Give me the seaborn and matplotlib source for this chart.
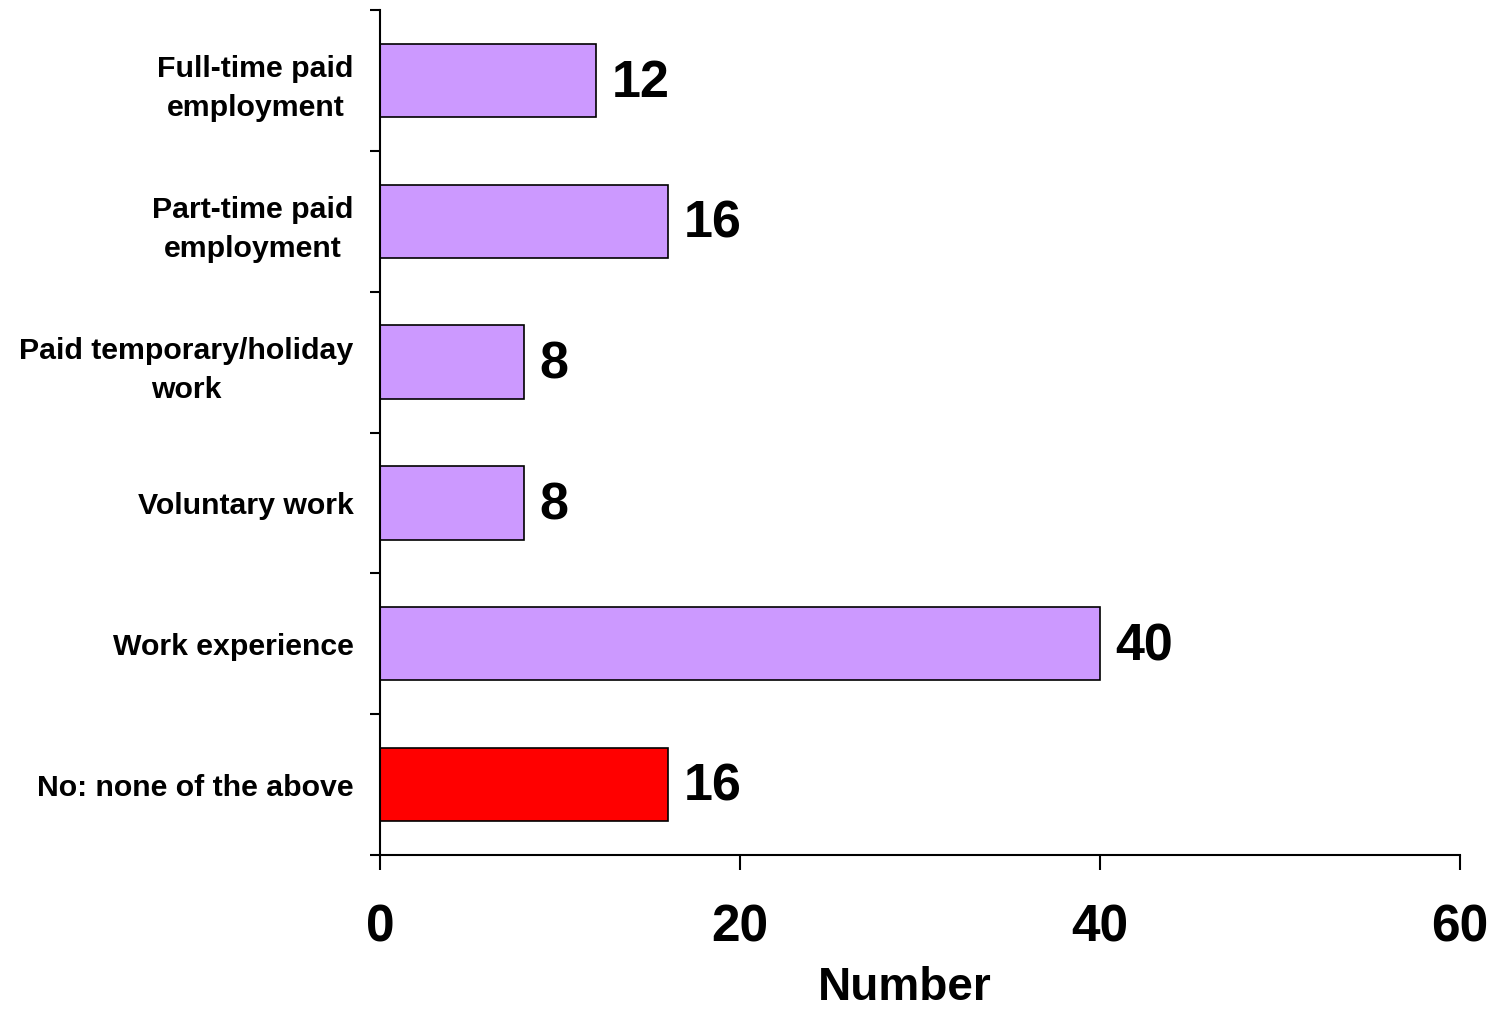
import matplotlib
matplotlib.use("Agg")
import matplotlib.pyplot as plt
import seaborn as sns
import pandas as pd
import numpy as np

categories = ["Full-time paid\nemployment", "Part-time paid\nemployment",
              "Paid temporary/holiday\nwork", "Voluntary work",
              "Work experience", "No: none of the above"]
values = [12, 16, 8, 8, 40, 16]
groups = ["yes", "yes", "yes", "yes", "yes", "no"]
palette = {"yes": "#CC99FF", "no": "#FF0000"}
xticks = [0, 20, 40, 60]
xlabel = "Number"

sns.set_theme(style="white")
plt.rcParams['font.family'] = ['Liberation Sans', 'DejaVu Sans']
plt.rcParams['font.weight'] = 'bold'
plt.rcParams['text.color'] = 'black'
plt.rcParams['axes.labelcolor'] = 'black'
plt.rcParams['xtick.color'] = 'black'
plt.rcParams['ytick.color'] = 'black'

df = pd.DataFrame({"cat": categories, "val": values, "grp": groups})

fig = plt.figure(figsize=(14.98, 10.10), dpi=100)
ax = fig.add_axes([380/1498, 155/1010, 1080/1498, 845/1010])

sns.barplot(data=df, y="cat", x="val", hue="grp", palette=palette, dodge=False,
            width=0.52, edgecolor="black", linewidth=1.2, legend=False, ax=ax,
            orient="h", saturation=1)

ax.set_xlim(0, 60)
ax.set_ylim(5.5, -0.5)
ax.set_xticks(xticks)
ax.set_xticklabels([str(t) for t in xticks], fontsize=37, fontweight='bold', color='black')
ax.set_yticks(range(len(categories)))
ax.set_yticklabels(categories, fontsize=21.8, fontweight='bold', multialignment='center',
                   linespacing=1.5, color='black')
ax.set_yticks(np.arange(-0.5, len(categories), 1.0), minor=True)
ax.tick_params(axis='y', which='major', length=0, pad=19)
ax.tick_params(axis='y', which='minor', length=7, width=1.5, color='black', direction='out', left=True)
ax.tick_params(axis='x', which='major', length=11, width=1.5, color='black', direction='out', bottom=True, pad=24)
ax.set_ylabel("")
ax.set_xlabel(xlabel, fontsize=33, fontweight='bold', labelpad=10, color='black')
ax.xaxis.label.set_x((905 - 380) / 1080)

for s in ["top", "right"]:
    ax.spines[s].set_visible(False)
for s in ["left", "bottom"]:
    ax.spines[s].set_visible(True)
    ax.spines[s].set_color("black")
    ax.spines[s].set_linewidth(1.5)

for i, v in enumerate(values):
    ax.annotate(str(v), xy=(v, i), xytext=(11, -2), textcoords='offset points',
                va='center', ha='left', fontsize=37.5, fontweight='bold', color='black')

fig.savefig("out.png", dpi=100, facecolor='white')
